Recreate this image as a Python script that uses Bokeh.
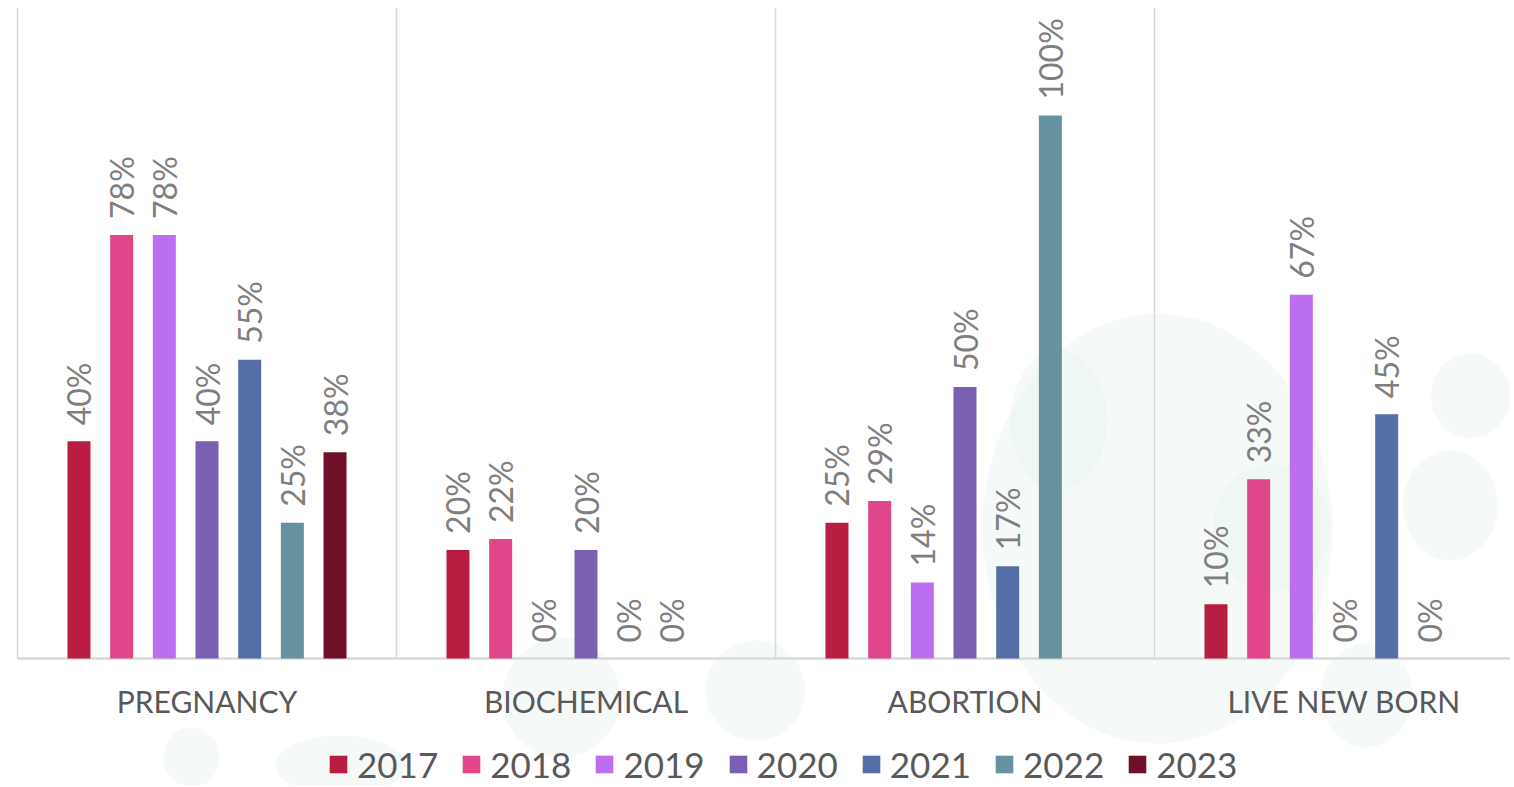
import math
from bokeh.plotting import figure
from bokeh.models import ColumnDataSource, Range1d, Legend, LegendItem
from bokeh.core.properties import value
from bokeh.embed import file_html
from bokeh.resources import INLINE

categories = ["PREGNANCY", "BIOCHEMICAL", "ABORTION", "LIVE NEW BORN"]
years = ["2017", "2018", "2019", "2020", "2021", "2022", "2023"]
v2017 = [0.40, 0.20, 0.25, 0.10]
v2018 = [0.78, 0.22, 0.29, 0.33]
v2019 = [0.78, 0.00, 0.14, 0.67]
v2020 = [0.40, 0.20, 0.50, 0.00]
v2021 = [0.55, 0.00, 0.17, 0.45]
v2022 = [0.25, 0.00, 1.00, 0.00]
v2023 = [0.38, None, None, None]
series = [v2017, v2018, v2019, v2020, v2021, v2022, v2023]
colors = ["#b81d42", "#e0478b", "#bb6ff0", "#7b5fb0", "#566ea6", "#66919e", "#6e1128"]

# decorative background blobs (page decoration, not data)
deco_x = [3.008, 3.834, 3.781, 2.747, 3.309, 0.459, 1.435, 1.947, 0.852, 3.559]
deco_y = [0.239, 0.484, 0.282, 0.438, 0.241, -0.182, -0.072, -0.059, -0.197, -0.068]
deco_w = [350, 80, 95, 97, 117, 56, 118, 100, 130, 92]
deco_h = [430, 85, 110, 140, 127, 60, 120, 100, 60, 104]

FONT = "Lato"
W, H = 1510, 785
CAT_W_PX = 379.0       # pixels per category
UNIT_Y_PX = 543.0      # pixels per 100 %
LEFT_PX = 17           # figure-left to first category boundary
BASE_PX = 658          # figure-top to baseline
step = 0.1126
bar_w = 0.0607

x0 = -LEFT_PX / CAT_W_PX
x1 = (W - LEFT_PX) / CAT_W_PX
y1 = BASE_PX / UNIT_Y_PX
y0 = -(H - BASE_PX) / UNIT_Y_PX

p = figure(width=W, height=H,
           x_range=Range1d(x0, x1), y_range=Range1d(y0, y1),
           output_backend="svg", toolbar_location=None,
           min_border_left=0, min_border_right=0, min_border_top=0,
           min_border_bottom=0)
p.outline_line_color = None
p.background_fill_color = "white"
p.border_fill_color = "white"
p.xaxis.visible = False
p.yaxis.visible = False
p.xgrid.visible = False
p.ygrid.visible = False

p.ellipse(x=deco_x, y=deco_y, width=deco_w, height=deco_h,
          width_units="screen", height_units="screen",
          fill_color="#e6f2ef", fill_alpha=0.4, line_color=None)

# category separators and baseline
n = len(categories)
top_line = (BASE_PX - 7) / UNIT_Y_PX
p.segment(x0=list(range(n + 1)), y0=[0] * (n + 1),
          x1=list(range(n + 1)), y1=[top_line] * (n + 1),
          line_color="#d9d9d9", line_width=1.5)
p.segment(x0=[0], y0=[0], x1=[x1], y1=[0], line_color="#d9d9d9", line_width=2.5)

# category labels
p.text(x=[c + 0.5 for c in range(n)], y=[0] * n, text=categories,
       text_align="center", text_baseline="alphabetic", y_offset=42,
       text_font=value(FONT), text_font_size="30px", text_color="#595959")

items = []
for i, (yr, vals, col) in enumerate(zip(years, series, colors)):
    xs, tops, labels = [], [], []
    for c, v in enumerate(vals):
        if v is None:
            continue
        xs.append(c + 0.5 + (i - 3) * step)
        tops.append(v)
        labels.append(f"{round(v * 100)}%")
    src = ColumnDataSource(dict(x=xs, top=tops, label=labels))
    r = p.vbar(x="x", top="top", width=bar_w, bottom=0, source=src,
               fill_color=col, line_color=None)
    p.text(x="x", y="top", text="label", source=src, angle=math.pi / 2,
           text_align="left", text_baseline="middle", y_offset=-16,
           text_font=value(FONT), text_font_size="32px", text_color="#7f7f7f")
    items.append(LegendItem(label=yr, renderers=[r]))

legend = Legend(items=items, orientation="horizontal", location=(327, 0),
                glyph_width=22, glyph_height=22, label_standoff=8, spacing=22,
                padding=0, margin=0, border_line_color=None,
                background_fill_alpha=0,
                label_text_font=FONT, label_text_font_size="35px",
                label_text_color="#595959")
p.add_layout(legend)

open("out.html", "w").write(file_html(p, INLINE))
